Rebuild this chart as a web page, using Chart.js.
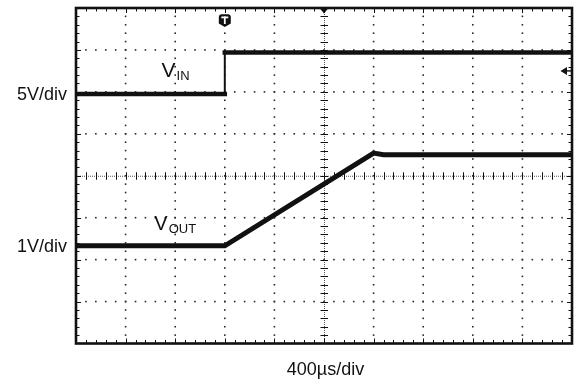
<!DOCTYPE html>
<html>
<head>
<meta charset="utf-8">
<script src="https://cdn.jsdelivr.net/npm/chart.js@4.4.0/dist/chart.umd.min.js"></script>
<style>
  html, body { margin: 0; padding: 0; background: #fff; overflow: hidden; }
  #wrap { position: relative; width: 575px; height: 381px; }
</style>
</head>
<body>
<div id="wrap"><canvas id="scope" width="575" height="381"></canvas></div>
<script>
// Horizontal timebase: 400 µs/div over 10 divisions (0 .. 4 ms)
const timePerDivMs = 0.4;
const xDivisions = 10;
const yDivisions = 8;

// V_IN: input step (5 V/div)
const vinTimeMs = [0, 1.2, 1.2, 4.0];
const vinVolts  = [0, 0, 4.95, 4.95];

// V_OUT: soft-start ramp (1 V/div)
const voutTimeMs = [0, 1.2, 2.4, 2.48, 4.0];
const voutVolts  = [0, 0, 2.21, 2.17, 2.17];

// Trigger: on V_IN rising edge
const triggerTimeMs = 1.2;
const triggerLevelVolts = 2.75;

// Channel settings: volts per division and ground position (divisions from centre)
const vinChannel  = { voltsPerDiv: 5, groundDiv: 1.95,  scaleText: '5V/div' };
const voutChannel = { voltsPerDiv: 1, groundDiv: -1.67, scaleText: '1V/div' };
const timebaseText = '400\u00B5s/div';

const FONT = '"Liberation Sans", Arial, Helvetica, sans-serif';
const INK = '#111';

const toPoints = (times, volts, ch) =>
  times.map((t, i) => ({ x: t, y: ch.groundDiv + volts[i] / ch.voltsPerDiv }));

// Draws the graticule, frame, markers and annotations of the scope screen
const scopeScreen = {
  id: 'scopeScreen',
  beforeDatasetsDraw(chart) {
    const { ctx, chartArea: a, scales: { x, y } } = chart;
    const minorX = timePerDivMs / 5;
    const minorY = 1 / 5;
    ctx.save();
    ctx.fillStyle = '#2a2a2a';
    const dot = (px, py) => ctx.fillRect(px - 0.8, py - 0.8, 1.6, 1.6);

    // dotted vertical division lines
    for (let i = 1; i < xDivisions; i++) {
      if (i === xDivisions / 2) continue;
      const px = x.getPixelForValue(i * timePerDivMs);
      for (let k = 1; k < yDivisions * 5; k++) dot(px, y.getPixelForValue(-yDivisions / 2 + k * minorY));
    }
    // dotted horizontal division lines
    for (let j = 1; j < yDivisions; j++) {
      if (j === yDivisions / 2) continue;
      const py = y.getPixelForValue(-yDivisions / 2 + j);
      for (let k = 1; k < xDivisions * 5; k++) dot(x.getPixelForValue(k * minorX), py);
    }

    // centre axes with minor ticks
    const cx = x.getPixelForValue(xDivisions / 2 * timePerDivMs);
    const cy = y.getPixelForValue(0);
    ctx.strokeStyle = '#555';
    ctx.lineWidth = 1;
    ctx.setLineDash([1, 1]);
    ctx.beginPath();
    ctx.moveTo(a.left, cy + 0.5); ctx.lineTo(a.right, cy + 0.5);
    ctx.moveTo(cx + 0.5, a.top); ctx.lineTo(cx + 0.5, a.bottom);
    ctx.stroke();
    ctx.setLineDash([]);
    ctx.strokeStyle = INK;
    ctx.beginPath();
    for (let k = 1; k < xDivisions * 5; k++) {
      const px = Math.round(x.getPixelForValue(k * minorX)) + 0.5;
      ctx.moveTo(px, cy - 3.5); ctx.lineTo(px, cy + 4);
    }
    for (let k = 1; k < yDivisions * 5; k++) {
      const py = Math.round(y.getPixelForValue(-yDivisions / 2 + k * minorY)) + 0.5;
      ctx.moveTo(cx - 3.5, py); ctx.lineTo(cx + 4, py);
    }
    ctx.stroke();

    // inward ticks along the frame
    ctx.beginPath();
    for (let k = 1; k < xDivisions * 5; k++) {
      const px = Math.round(x.getPixelForValue(k * minorX)) + 0.5;
      const len = k % 5 === 0 ? 5 : 3.5;
      ctx.moveTo(px, a.top); ctx.lineTo(px, a.top + len);
      ctx.moveTo(px, a.bottom); ctx.lineTo(px, a.bottom - len);
    }
    for (let k = 1; k < yDivisions * 5; k++) {
      const py = Math.round(y.getPixelForValue(-yDivisions / 2 + k * minorY)) + 0.5;
      const len = k % 5 === 0 ? 5 : 3.5;
      ctx.moveTo(a.left, py); ctx.lineTo(a.left + len, py);
      ctx.moveTo(a.right, py); ctx.lineTo(a.right - len, py);
    }
    ctx.stroke();
    ctx.restore();
  },
  afterDraw(chart) {
    const { ctx, chartArea: a, scales: { x, y } } = chart;
    ctx.save();

    // frame
    ctx.strokeStyle = INK;
    ctx.lineWidth = 2.6;
    ctx.strokeRect(a.left, a.top, a.right - a.left, a.bottom - a.top);

    ctx.fillStyle = INK;
    // trigger position marker (top)
    const tx = x.getPixelForValue(triggerTimeMs);
    ctx.beginPath();
    ctx.moveTo(tx - 6, 17.5);
    ctx.quadraticCurveTo(tx - 6, 14.3, tx - 3, 14.3);
    ctx.lineTo(tx + 3, 14.3);
    ctx.quadraticCurveTo(tx + 6, 14.3, tx + 6, 17.5);
    ctx.lineTo(tx + 6, 23.5);
    ctx.lineTo(tx, 27);
    ctx.lineTo(tx - 6, 23.5);
    ctx.closePath();
    ctx.fill();
    ctx.fillStyle = '#fff';
    ctx.fillRect(tx - 3.5, 16.5, 7, 1.8);
    ctx.fillRect(tx - 0.9, 16.5, 1.8, 7.5);

    // screen-centre marker
    ctx.fillStyle = INK;
    const cx = x.getPixelForValue(xDivisions / 2 * timePerDivMs);
    ctx.beginPath();
    ctx.moveTo(cx - 4.5, a.top); ctx.lineTo(cx + 4.5, a.top); ctx.lineTo(cx, a.top + 5.5);
    ctx.closePath(); ctx.fill();

    // trigger level marker (right edge)
    const ty = y.getPixelForValue(vinChannel.groundDiv + triggerLevelVolts / vinChannel.voltsPerDiv);
    ctx.beginPath();
    ctx.moveTo(a.right - 11.5, ty); ctx.lineTo(a.right - 5, ty - 4); ctx.lineTo(a.right - 5, ty + 4);
    ctx.closePath(); ctx.fill();
    ctx.lineWidth = 1.4;
    ctx.beginPath(); ctx.moveTo(a.right - 6, ty); ctx.lineTo(a.right, ty); ctx.stroke();

    // channel scale labels
    ctx.textAlign = 'right';
    ctx.textBaseline = 'alphabetic';
    ctx.font = '18px ' + FONT;
    for (const ch of [vinChannel, voutChannel]) {
      ctx.fillText(ch.scaleText, a.left - 9, y.getPixelForValue(ch.groundDiv) + 5.8);
    }
    // timebase label
    ctx.textAlign = 'center';
    ctx.fillText(timebaseText, x.getPixelForValue(xDivisions / 2 * timePerDivMs) + 1.5, a.bottom + 31.5);

    // trace names with subscripts
    ctx.textAlign = 'left';
    const traceName = (tMs, baseY, main, sub, mainSize, subSize, subDrop) => {
      const px = x.getPixelForValue(tMs);
      ctx.font = mainSize + 'px ' + FONT;
      ctx.fillText(main, px, baseY);
      const w = ctx.measureText(main).width;
      ctx.font = subSize + 'px ' + FONT;
      ctx.fillText(sub, px + w + 1, baseY + subDrop);
    };
    traceName(0.69, 76.7, 'V', 'IN', 21, 13, 2.8);
    traceName(0.632, 230, 'V', 'OUT', 20, 13, 2.8);

    ctx.restore();
  }
};

// thinner stroke on the vertical switching edge
const edgeWidth = (ctx, normal) =>
  ctx.p0.parsed.x === ctx.p1.parsed.x ? 2 : normal;

new Chart(document.getElementById('scope'), {
  type: 'line',
  data: {
    datasets: [
      {
        label: 'VIN',
        data: toPoints(vinTimeMs, vinVolts, vinChannel),
        borderColor: INK,
        borderWidth: 4.5,
        borderCapStyle: 'square',
        segment: { borderWidth: c => edgeWidth(c, 4.5) },
        pointRadius: 0,
        tension: 0,
        clip: 0
      },
      {
        label: 'VOUT',
        data: toPoints(voutTimeMs, voutVolts, voutChannel),
        borderColor: INK,
        borderWidth: 5,
        pointRadius: 0,
        tension: 0,
        clip: 0
      }
    ]
  },
  options: {
    responsive: false,
    animation: false,
    events: [],
    layout: { padding: { left: 76, right: 3, top: 8, bottom: 37.5 } },
    plugins: { legend: { display: false }, tooltip: { enabled: false } },
    scales: {
      x: { type: 'linear', min: 0, max: xDivisions * timePerDivMs, display: false },
      y: { type: 'linear', min: -yDivisions / 2, max: yDivisions / 2, display: false }
    }
  },
  plugins: [scopeScreen]
});
</script>
</body>
</html>
